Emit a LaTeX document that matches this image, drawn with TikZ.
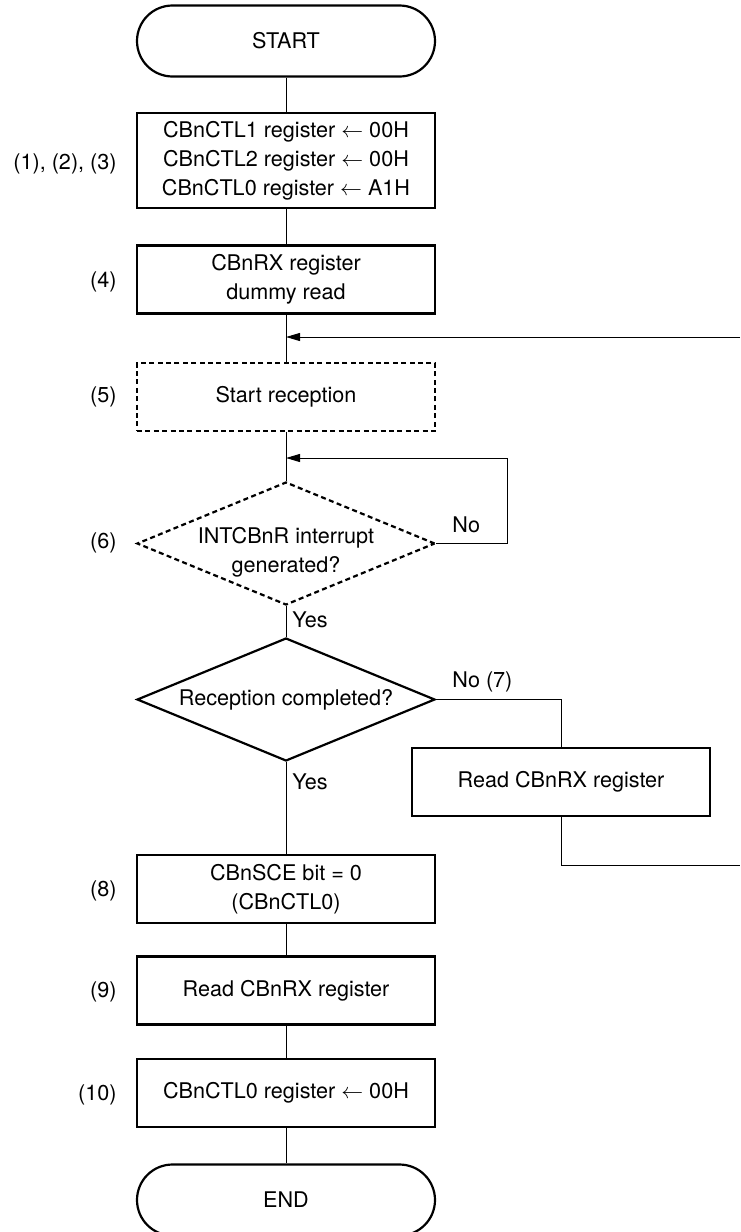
\documentclass[tikz,border=0pt]{standalone}
\usepackage{fontspec}
\setmainfont{TeX Gyre Heros}
\usepackage{tikz}
\usetikzlibrary{arrows.meta}
\usetikzlibrary{shapes.geometric}
\usepackage{amsmath}
\tikzstyle{proc} = [draw, line width=1.1pt, minimum width=149pt, minimum height=34pt, align=center]
\tikzstyle{term} = [draw, line width=1.1pt, rounded corners=17.75pt, minimum width=149pt, minimum height=35.5pt]
\tikzstyle{dec} = [draw, line width=1.1pt, diamond, aspect=2.4, inner sep=0pt, minimum width=149pt, minimum height=61.5pt, align=center]
\tikzstyle{optional} = [dash pattern=on 2.5pt off 1.7pt]
\tikzstyle{num} = [anchor=east, inner sep=0pt]
\tikzstyle{lbl} = [anchor=west, inner sep=0pt]
\tikzstyle{link} = [draw, line width=0.5pt]
\tikzstyle{arr} = [draw, line width=0.5pt, -{Triangle[length=7pt,width=4pt]}]

\begin{document}
\begin{tikzpicture}[x=0.5pt, y=-0.5pt, font=\fontsize{10.8pt}{14.6pt}\selectfont]
    \useasboundingbox (0,0) rectangle (740,1232);
    % main column
    \node[term] (start) at (286,41) {START};
    \node[proc, minimum height=47.5pt] (ctl) at (286,160.5) {CBnCTL1 register $\leftarrow$ 00H\\CBnCTL2 register $\leftarrow$ 00H\\CBnCTL0 register $\leftarrow$ A1H};
    \node[proc] (dummy) at (286,279.5) {CBnRX register\\dummy read};
    \node[proc, optional] (rxstart) at (286,397) {Start reception};
    \node[dec, optional, label={[align=center, yshift=-4.5pt]center:INTCBnR interrupt\\generated?}] (intchk) at (286,543.5) {};
    \node[dec] (donechk) at (286,699.5) {Reception completed?};
    \node[proc] (rdloop) at (561,782) {Read CBnRX register};
    \node[proc] (sce) at (286,889) {CBnSCE bit = 0\\(CBnCTL0)};
    \node[proc] (rdlast) at (286,990.5) {Read CBnRX register};
    \node[proc] (ctlclr) at (286,1093) {CBnCTL0 register $\leftarrow$ 00H};
    \node[term] (end) at (286,1200) {END};

    % step numbers
    \node[num] (n123) at (117,164) {(1), (2), (3)};
    \node[num] (n4) at (117,282) {(4)};
    \node[num] (n5) at (117,397) {(5)};
    \node[num] (n6) at (117,543) {(6)};
    \node[num] (n8) at (117,891) {(8)};
    \node[num] (n9) at (117,992) {(9)};
    \node[num] (n10) at (117,1095) {(10)};

    \coordinate (retin) at (740,337);
    \coordinate (loopc) at (507,458);
    \coordinate (retout) at (740,865);

    \draw[link] (start) -- (ctl);
    \draw[link] (ctl) -- (dummy);
    \draw[link] (dummy) -- (rxstart);
    \draw[arr] (retin) -- (retin -| dummy.south);
    \draw[link] (rxstart) -- (intchk);
    \draw[arr] (intchk.east) -| (loopc) -- (loopc -| intchk.north);
    \node[lbl] (no1) at (452,525) {No};
    \draw[link] (intchk) -- (donechk);
    \node[lbl] (yes1) at (292,620) {Yes};
    \draw[link] (donechk.east) -| (rdloop.north);
    \node[lbl] (no2) at (452,682) {No (7)};
    \draw[link] (rdloop.south) |- (retout);
    \draw[link] (donechk) -- (sce);
    \node[lbl] (yes2) at (292,782) {Yes};
    \draw[link] (sce) -- (rdlast);
    \draw[link] (rdlast) -- (ctlclr);
    \draw[link] (ctlclr) -- (end);
\end{tikzpicture}
\end{document}
